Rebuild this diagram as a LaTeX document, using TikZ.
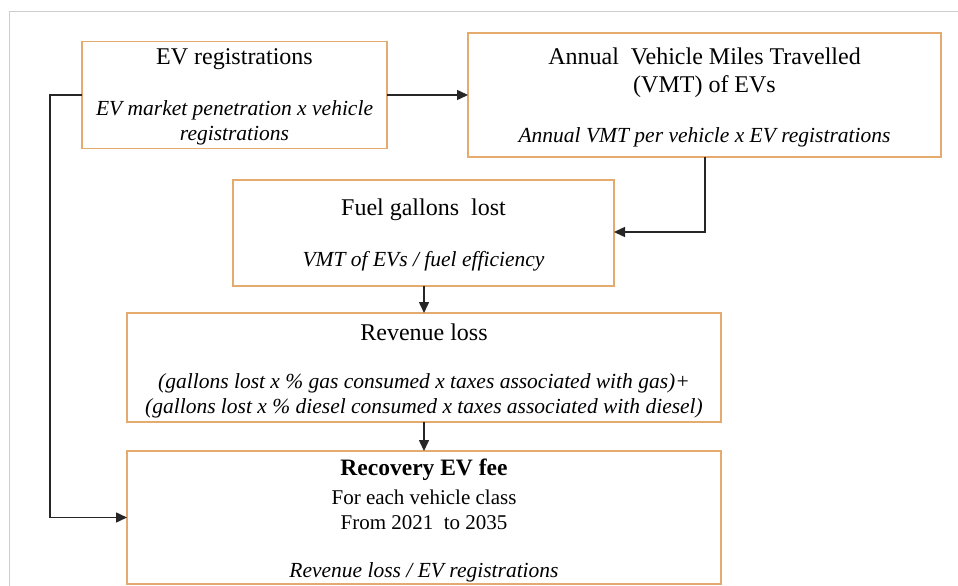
\documentclass[tikz,border=0pt]{standalone}
\usepackage{fontspec}
\setmainfont{Liberation Serif}
\usetikzlibrary{arrows.meta}
\definecolor{boxedge}{RGB}{228,170,110}
\definecolor{framegray}{RGB}{205,205,205}
\tikzset{
  box/.style={draw=boxedge, line width=1.1pt, fill=white, inner sep=0pt, outer sep=0pt},
  ttl/.style={font=\fontsize{24}{27}\selectfont, inner sep=0pt},
  formula/.style={font=\fontsize{21.5}{25}\selectfont\itshape, inner sep=0pt, align=center},
  plain/.style={font=\fontsize{21}{25}\selectfont, inner sep=0pt},
  link/.style={draw=black!85, line width=1.5pt, -{Triangle[length=11pt,width=10pt]}},
  wire/.style={draw=black!85, line width=1.5pt}
}
\begin{document}
\begin{tikzpicture}[x=1pt,y=-1pt]
  \useasboundingbox (0,0) rectangle (958,586);
  \fill[white] (0,0) rectangle (958,586);
  % outer frame
  \draw[framegray, line width=1pt] (9.5,586) -- (9.5,12) -- (958,12);

  % boxes
  \node[box, minimum width=305pt, minimum height=107pt] (ev)   at (234.5,95)  {};
  \node[box, minimum width=473pt, minimum height=124pt] (vmt)  at (704.5,95)  {};
  \node[box, minimum width=381pt, minimum height=106pt] (fuel) at (423.5,233) {};
  \node[box, minimum width=594pt, minimum height=109pt] (rev)  at (424,367.5) {};
  \node[box, minimum width=594pt, minimum height=133pt] (rec)  at (424,517.5) {};

  % texts
  \node[ttl] (evT) at (234.5,59) {EV registrations};
  \node[formula] (evF) at (234.5,123) {EV market penetration x vehicle\\[0pt]registrations};

  \node[ttl] (vmtT1) at (704.5,56) {Annual\ \ Vehicle Miles Travelled};
  \node[ttl] (vmtT2) at (704.5,87) {(VMT) of EVs};
  \node[formula] (vmtF) at (704.5,137) {Annual VMT per vehicle x EV registrations};

  \node[ttl] (fuelT) at (423.5,210) {Fuel gallons\ \ lost};
  \node[formula] (fuelF) at (423.5,261) {VMT of EVs\ /\ fuel efficiency};

  \node[ttl] (revT) at (424,332) {Revenue loss};
  \node[formula] (revF) at (424,395.5) {(gallons lost x \% gas consumed x taxes associated with gas)+\\[0pt](gallons lost x \% diesel consumed x taxes associated with diesel)};

  \node[ttl, font=\fontsize{23.5}{27}\selectfont\bfseries] (recT) at (424,470) {Recovery EV fee};
  \node[plain] (recA) at (424,497) {For each vehicle class};
  \node[plain] (recB) at (424,523) {From 2021\ \ to 2035};
  \node[formula] (recF) at (424,572) {Revenue loss / EV registrations};

  % connectors
  \draw[link] (ev.east) -- (vmt.west |- ev.east);
  \coordinate (vmtDrop) at (705,232);
  \draw[link] (vmt.south -| vmtDrop) -- (vmtDrop) -- (fuel.east |- vmtDrop);
  \draw[link] (fuel.south -| rev.north) -- (rev.north);
  \draw[link] (rev.south) -- (rec.north);
  \coordinate (leftRail) at (50,95);
  \draw[link] (ev.west) -- (leftRail) -- (leftRail |- rec.west) -- (rec.west);
\end{tikzpicture}
\end{document}
